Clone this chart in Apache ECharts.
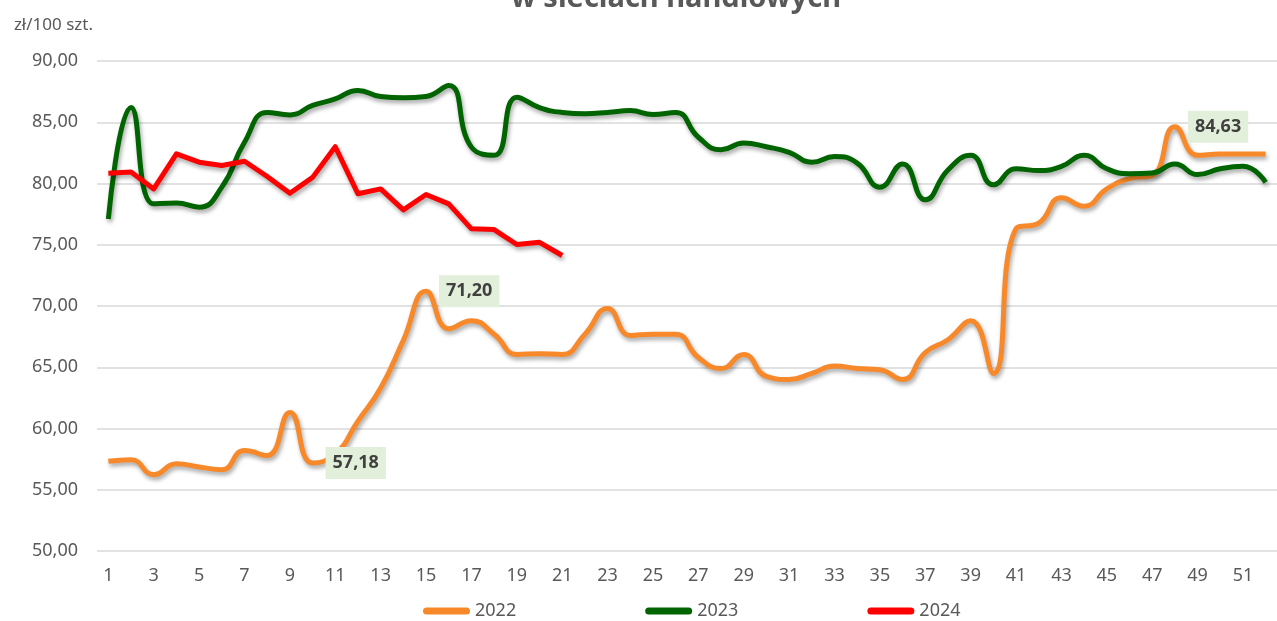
<!DOCTYPE html>
<html><head><meta charset="utf-8">
<script src="https://cdn.jsdelivr.net/npm/echarts@6/dist/echarts.min.js"></script>
<style>html,body{margin:0;padding:0;background:#fff}#c{width:1277px;height:621px}</style>
</head><body><div id="c"></div>
<script>
const weeks = ['1','2','3','4','5','6','7','8','9','10','11','12','13','14','15','16','17','18','19','20','21','22','23','24','25','26','27','28','29','30','31','32','33','34','35','36','37','38','39','40','41','42','43','44','45','46','47','48','49','50','51','52'];
const seriesNames = ['2022', '2023', '2024'];
const y2022 = [57.32,57.45,56.23,57.13,56.86,56.64,58.20,57.80,61.30,57.18,57.90,60.60,63.30,67.20,71.20,68.15,68.80,67.70,66.05,66.10,66.05,67.70,69.80,67.60,67.70,67.70,65.80,64.90,66.05,64.25,64.00,64.50,65.10,64.90,64.80,64.00,66.20,67.25,68.80,64.50,76.30,76.76,78.83,78.15,79.56,80.40,80.65,84.63,82.30,82.40,82.40,82.40];
const y2023 = [77.10,86.20,78.34,78.40,78.07,79.70,83.37,85.80,85.60,86.37,86.90,87.60,87.10,87.00,87.10,88.00,82.97,82.30,87.05,86.20,85.80,85.70,85.80,85.95,85.63,85.80,83.78,82.75,83.30,83.00,82.55,81.74,82.20,81.66,79.70,81.60,78.67,81.10,82.30,79.90,81.20,81.06,81.40,82.30,81.20,80.80,80.85,81.60,80.73,81.20,81.40,80.10];
const y2024 = [80.84,80.93,79.56,82.42,81.74,81.47,81.82,80.57,79.20,80.50,83.00,79.16,79.56,77.85,79.10,78.34,76.30,76.24,75.02,75.20,74.12];
const labelledWeeks2022 = ['10', '15', '48'];
const yTicks = { min: 50, max: 90, step: 5 };
const titleText = 'w sieciach handlowych';
const unitText = 'zł/100 szt.';

const FONT = "'Noto Sans', sans-serif";
const fmt = v => v.toFixed(2).replace('.', ',');

const labelStyle = {
  show: true, position: 'right', distance: 12,
  backgroundColor: '#E2EFDA', padding: [6, 7, 5, 7], lineHeight: 21,
  color: '#404040', fontWeight: 'bold', fontSize: 18, fontFamily: FONT,
  formatter: p => fmt(p.value)
};

const data2022 = y2022.map((v, i) => labelledWeeks2022.includes(weeks[i])
  ? { value: v, symbol: 'circle', symbolSize: 2, label: labelStyle }
  : { value: v, symbol: 'none' });

const shadow = { shadowColor: 'rgba(0,0,0,0.35)', shadowBlur: 4, shadowOffsetX: 1.5, shadowOffsetY: 3 };

const chart = echarts.init(document.getElementById('c'), null, { renderer: 'canvas' });
chart.setOption({
  animation: false,
  textStyle: { fontFamily: FONT },
  graphic: [{
    type: 'text', x: 676, y: 13,
    style: { text: titleText, fontSize: 29, fontWeight: 'bold', fontFamily: FONT, fill: '#595959', align: 'center', verticalAlign: 'bottom' }
  }],
  grid: { left: 97, top: 61, width: 1188, height: 490, containLabel: false },
  legend: {
    data: seriesNames, left: 418, top: 597,
    icon: 'path://M3.5,0H43.5A3.5,3.5,0,0,1,43.5,7H3.5A3.5,3.5,0,0,1,3.5,0Z',
    itemWidth: 47, itemHeight: 7, itemGap: 129,
    textStyle: { color: '#595959', fontSize: 18, fontFamily: FONT },
    selectedMode: false
  },
  xAxis: {
    type: 'category', data: weeks, boundaryGap: true,
    axisLine: { show: false }, axisTick: { show: false },
    axisLabel: { interval: 1, color: '#595959', fontSize: 18, margin: 16, fontFamily: FONT }
  },
  yAxis: {
    type: 'value', min: yTicks.min, max: yTicks.max, interval: yTicks.step,
    name: unitText, nameLocation: 'end', nameGap: 36,
    nameTextStyle: { color: '#595959', fontSize: 17, align: 'right', verticalAlign: 'middle', padding: [0, 4, 0, 0], fontFamily: FONT },
    axisLine: { show: false }, axisTick: { show: false },
    axisLabel: { color: '#595959', fontSize: 18, margin: 19, formatter: v => fmt(v), fontFamily: FONT },
    splitLine: { lineStyle: { color: '#D9D9D9', width: 1.5 } }
  },
  series: [
    { name: seriesNames[0], type: 'line', data: data2022, smooth: 0.5, symbol: 'circle', showSymbol: true, showAllSymbol: true,
      color: '#F7892B', itemStyle: { color: '#F7892B' },
      lineStyle: Object.assign({ width: 5, color: '#F7892B' }, shadow), emphasis: { disabled: true }, z: 2 },
    { name: seriesNames[1], type: 'line', data: y2023, smooth: 0.5, symbol: 'none',
      color: '#006400', lineStyle: Object.assign({ width: 5, color: '#006400' }, shadow), emphasis: { disabled: true }, z: 2 },
    { name: seriesNames[2], type: 'line', data: y2024, smooth: false, symbol: 'none',
      color: '#FF0000', lineStyle: Object.assign({ width: 5, color: '#FF0000', join: 'round' }, shadow), emphasis: { disabled: true }, z: 3 }
  ]
});
</script></body></html>
